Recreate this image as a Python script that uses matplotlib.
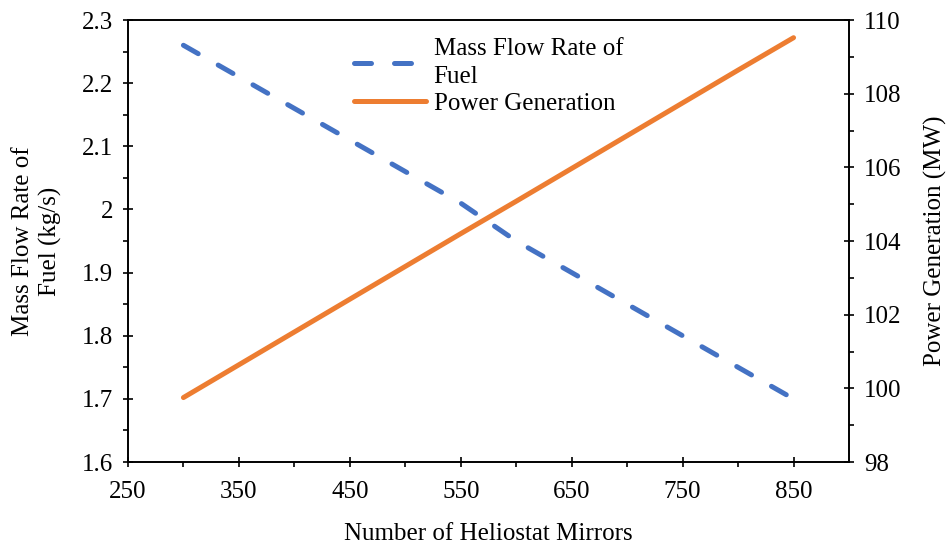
import matplotlib.pyplot as plt
from matplotlib.ticker import MultipleLocator, FixedLocator

plt.rcParams['font.family'] = ['Liberation Serif', 'DejaVu Serif']

# heliostat count vs. fuel use and output
mirrors = [300, 350, 400, 450, 500, 550, 600, 650, 700, 750, 800, 850]
fuel_flow = [2.26, 2.21, 2.16, 2.11, 2.06, 2.01, 1.95, 1.90, 1.85, 1.80, 1.75, 1.70]
power_mw = [99.75, 100.64, 101.53, 102.42, 103.31, 104.20,
            105.08, 105.97, 106.86, 107.75, 108.64, 109.52]
left_ticks = [1.6, 1.7, 1.8, 1.9, 2.0, 2.1, 2.2, 2.3]
left_labels = ['1.6', '1.7', '1.8', '1.9', '2', '2.1', '2.2', '2.3']

blue = '#4472C4'
orange = '#ED7D31'
fs = 18

fig = plt.figure(figsize=(9.5, 5.44), dpi=100)
ax = fig.add_axes([0.1347, 0.1507, 0.759, 0.8125])
ax2 = ax.twinx()

l1, = ax.plot(mirrors, fuel_flow, color=blue, lw=3.6, dashes=(3.4, 4.6),
              dash_capstyle='round', label='Mass Flow Rate of\nFuel')
l2, = ax2.plot(mirrors, power_mw, color=orange, lw=3.6,
               solid_capstyle='round', label='Power Generation')

ax.set_xlim(250, 900)
ax.set_ylim(1.6, 2.3)
ax2.set_ylim(98, 110)

ax.xaxis.set_major_locator(FixedLocator([250, 350, 450, 550, 650, 750, 850]))
ax.xaxis.set_minor_locator(FixedLocator([300, 400, 500, 600, 700, 800]))
ax.set_yticks(left_ticks, left_labels)
ax.yaxis.set_minor_locator(MultipleLocator(0.05))
ax2.yaxis.set_major_locator(MultipleLocator(2))
ax2.yaxis.set_minor_locator(MultipleLocator(1))

for a in (ax, ax2):
    for s in a.spines.values():
        s.set_linewidth(1.2)
    a.tick_params(which='major', direction='inout', length=7.5, width=1.2,
                  labelsize=fs, pad=7)
    a.tick_params(which='minor', direction='out', length=3.6, width=1.2)
ax.tick_params(axis='x', which='major', pad=10)

ax.set_xlabel('Number of Heliostat Mirrors', fontsize=fs, labelpad=14)
ax.set_ylabel('Mass Flow Rate of\nFuel (kg/s)', fontsize=fs, labelpad=14,
              linespacing=1.3)
ax2.set_ylabel('Power Generation (MW)', fontsize=fs, labelpad=16)

leg = ax.legend(handles=[l1, l2], loc='upper center', bbox_to_anchor=(0.5, 1.0),
                frameon=False, fontsize=fs, handlelength=2.9, handletextpad=0.3,
                labelspacing=0.15, borderaxespad=0.3)
leg.get_texts()[0].set_linespacing(1.4)

fig.savefig('out.png', dpi=100)
